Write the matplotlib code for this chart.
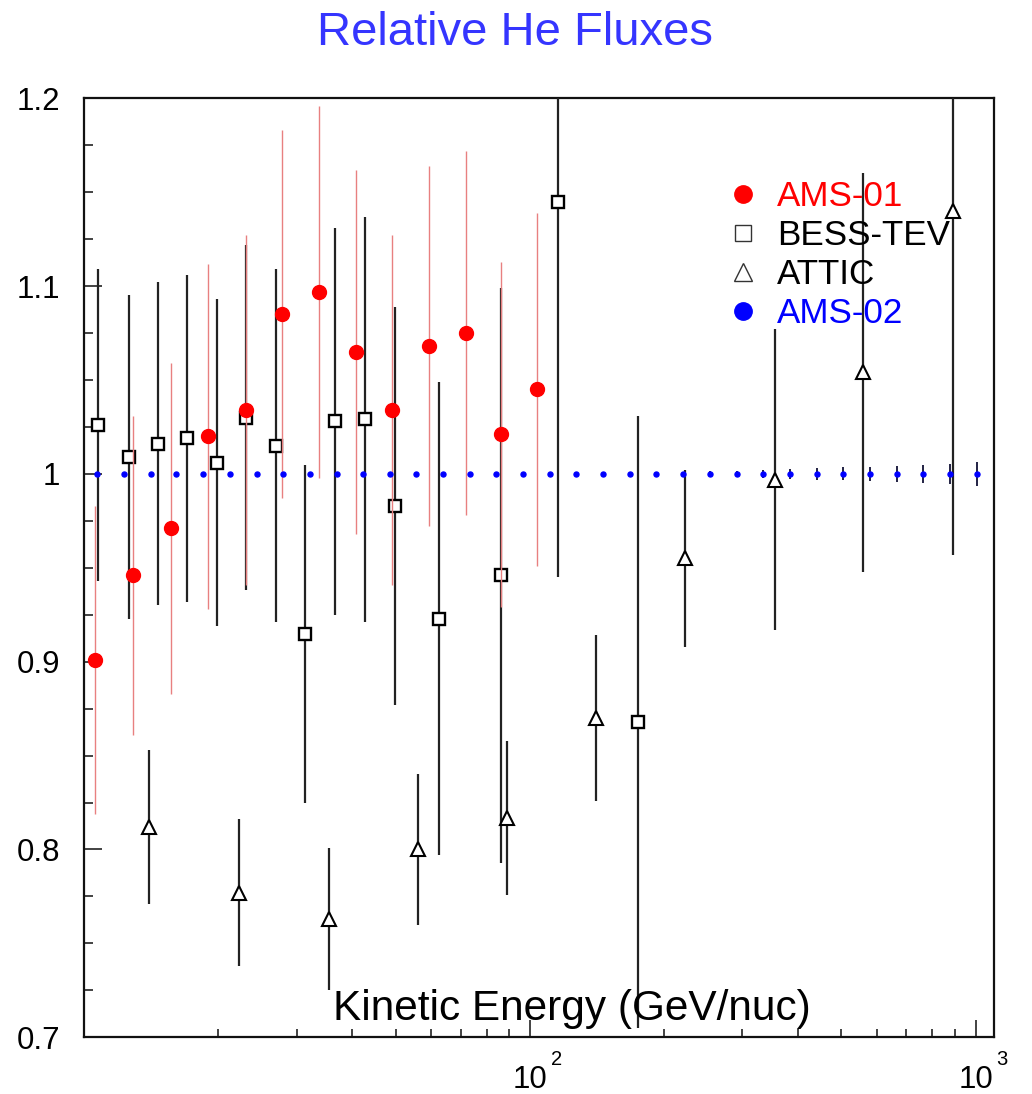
import math
import matplotlib
matplotlib.use("Agg")
import matplotlib.pyplot as plt
import matplotlib.transforms as mtransforms
from matplotlib.lines import Line2D
from matplotlib.ticker import FixedLocator, FuncFormatter, LogLocator, NullFormatter

plt.rcParams['font.family'] = ['Liberation Sans', 'DejaVu Sans']

# ---------------- data ----------------
title = "Relative He Fluxes"
xlabel = "Kinetic Energy (GeV/nuc)"
series_names = ["AMS-01", "BESS-TEV", "ATTIC", "AMS-02"]

ams01_E = [10.57, 12.88, 15.64, 18.99, 23.03, 27.82, 33.74, 40.69, 49.08, 59.29, 71.77, 86.1, 103.7]
ams01_val = [0.901, 0.946, 0.971, 1.020, 1.034, 1.085, 1.097, 1.065, 1.034, 1.068, 1.075, 1.021, 1.045]
ams01_err = [0.082, 0.085, 0.088, 0.092, 0.093, 0.098, 0.099, 0.097, 0.093, 0.096, 0.097, 0.092, 0.094]

bess_E = [10.75, 12.60, 14.67, 16.99, 19.89, 23.07, 26.93, 31.28, 36.64, 42.63, 49.76, 62.44, 86.1, 115.8, 175.0]
bess_val = [1.026, 1.009, 1.016, 1.019, 1.006, 1.030, 1.015, 0.915, 1.028, 1.029, 0.983, 0.923, 0.946, 1.145, 0.868]
bess_err = [0.083, 0.086, 0.086, 0.087, 0.087, 0.092, 0.094, 0.090, 0.103, 0.108, 0.106, 0.126, 0.153, 0.200, 0.163]

attic_E = [13.98, 22.28, 35.4, 56.03, 89.1, 140.9, 223.4, 354.7, 560.2, 890.0]
attic_val = [0.812, 0.777, 0.763, 0.800, 0.817, 0.870, 0.955, 0.997, 1.054, 1.140]
attic_err = [0.041, 0.039, 0.038, 0.040, 0.041, 0.044, 0.047, 0.080, 0.106, 0.183]

ams02_E = [10.7, 12.3, 14.1, 16.1, 18.5, 21.3, 24.4, 28.0, 32.1, 36.9,
           42.3, 48.6, 55.7, 64.0, 73.4, 84.2, 96.7, 111.0, 127.0, 146.0,
           168.0, 192.0, 221.0, 254.0, 291.0, 334.0, 383.0, 440.0, 505.0, 579.0,
           665.0, 763.0, 875.0, 1008.0]
ams02_val = [1.0, 1.0, 1.0, 1.0, 1.0, 1.0, 1.0, 1.0, 1.0, 1.0,
             1.0, 1.0, 1.0, 1.0, 1.0, 1.0, 1.0, 1.0, 1.0, 1.0,
             1.0, 1.0, 1.0, 1.0, 1.0, 1.0, 1.0, 1.0, 1.0, 1.0,
             1.0, 1.0, 1.0, 1.0]
ams02_err = [0.0005, 0.0005, 0.0005, 0.0005, 0.0005, 0.0005, 0.0005, 0.0005, 0.0005, 0.0005,
             0.0007, 0.0007, 0.0007, 0.0007, 0.0007, 0.0007, 0.0007, 0.0007, 0.001, 0.001,
             0.001, 0.001, 0.0012, 0.0015, 0.0018, 0.0022, 0.0027, 0.0032, 0.0035, 0.0038,
             0.0043, 0.0050, 0.0054, 0.0062]

y_ticks = [0.7, 0.8, 0.9, 1.0, 1.1, 1.2]
x_major = [100, 1000]

# ---------------- figure ----------------
W, H = 1032, 1094
fig = plt.figure(figsize=(W / 100, H / 100), dpi=100)
fig.patch.set_facecolor('white')
ax = fig.add_axes([84 / W, 1 - 1037.3 / H, (994 - 84) / W, (1037.3 - 98.3) / H])

ax.errorbar(bess_E, bess_val, yerr=bess_err, fmt='s', ms=8.8, mfc='white', mec='black',
            mew=1.7, ecolor='#222222', elinewidth=1.6, capsize=0, zorder=3)
ax.errorbar(attic_E, attic_val, yerr=attic_err, fmt='^', ms=9.5, mfc='white', mec='black',
            mew=1.5, ecolor='#222222', elinewidth=1.6, capsize=0, zorder=3)
ax.errorbar(ams01_E, ams01_val, yerr=ams01_err, fmt='o', ms=10, mfc='#ff0000', mec='#ff0000',
            ecolor='#e88080', elinewidth=1.0, capsize=0, zorder=4)
ax.errorbar(ams02_E, ams02_val, yerr=ams02_err, fmt='o', ms=3.6, mfc='#0000ff', mec='#0000ff',
            ecolor='#222244', elinewidth=1.4, capsize=0, zorder=5)

ax.set_xscale('log')
ax.set_xlim(10, 1100)
ax.set_ylim(0.7, 1.2)

ax.xaxis.set_major_locator(FixedLocator(x_major))
ax.xaxis.set_major_formatter(NullFormatter())
ax.xaxis.set_minor_locator(LogLocator(base=10, subs=(2, 3, 4, 5, 6, 7, 8, 9), numticks=20))
ax.xaxis.set_minor_formatter(NullFormatter())

ax.yaxis.set_major_locator(FixedLocator(y_ticks))
ax.yaxis.set_major_formatter(FuncFormatter(lambda v, p: f"{v:g}"))
ax.yaxis.set_minor_locator(FixedLocator([0.725, 0.75, 0.775, 0.825, 0.85, 0.875, 0.925, 0.95, 0.975,
                                         1.025, 1.05, 1.075, 1.125, 1.15, 1.175]))

ax.tick_params(axis='both', which='both', direction='in', top=False, right=False, width=1.2,
               color='#222222')
ax.tick_params(axis='y', which='major', length=13, labelsize=22.5, pad=17)
ax.tick_params(axis='y', which='minor', length=6.5)
ax.tick_params(axis='x', which='major', length=12)
ax.tick_params(axis='x', which='minor', length=6)
for s in ax.spines.values():
    s.set_linewidth(1.6)
    s.set_color('#111111')

# x tick labels as "10" with raised exponent, "10" centred on the tick
base_tr = ax.get_xaxis_transform()
sup_tr = mtransforms.offset_copy(base_tr, fig=fig, x=21, y=0, units='dots')
for v in x_major:
    ax.text(v, (1037.3 - 1088) / 939.0, '10', transform=base_tr, ha='center', va='baseline',
            fontsize=22.5, clip_on=False)
    ax.text(v, (1037.3 - 1065) / 939.0, str(int(round(math.log10(v)))), transform=sup_tr,
            ha='left', va='baseline', fontsize=14.5, clip_on=False)

fig.text(515 / W, 1 - 45 / H, title, ha='center', va='baseline', fontsize=34, color='#3535ff')
fig.text(333 / W, 1 - 1020 / H, xlabel, ha='left', va='baseline', fontsize=30.5, color='black')

handles = [
    Line2D([], [], ls='none', marker='o', ms=12.5, mfc='#ff0000', mec='#ff0000'),
    Line2D([], [], ls='none', marker='s', ms=11.5, mfc='white', mec='#333333', mew=1.0),
    Line2D([], [], ls='none', marker='^', ms=13, mfc='white', mec='#333333', mew=1.0),
    Line2D([], [], ls='none', marker='o', ms=12.5, mfc='#0000ff', mec='#0000ff'),
]
leg = ax.legend(handles, series_names, loc='upper left', bbox_to_anchor=(729 / W, 1 - 180 / H),
                bbox_transform=fig.transFigure, frameon=False, fontsize=25.2,
                handlelength=0.78, handletextpad=0.6, labelspacing=0.17, borderpad=0,
                borderaxespad=0)
leg.set_zorder(10)
for t, c in zip(leg.get_texts(), ['#ff0000', 'black', 'black', '#0000ff']):
    t.set_color(c)

fig.savefig('out.png', dpi=100, facecolor='white')
